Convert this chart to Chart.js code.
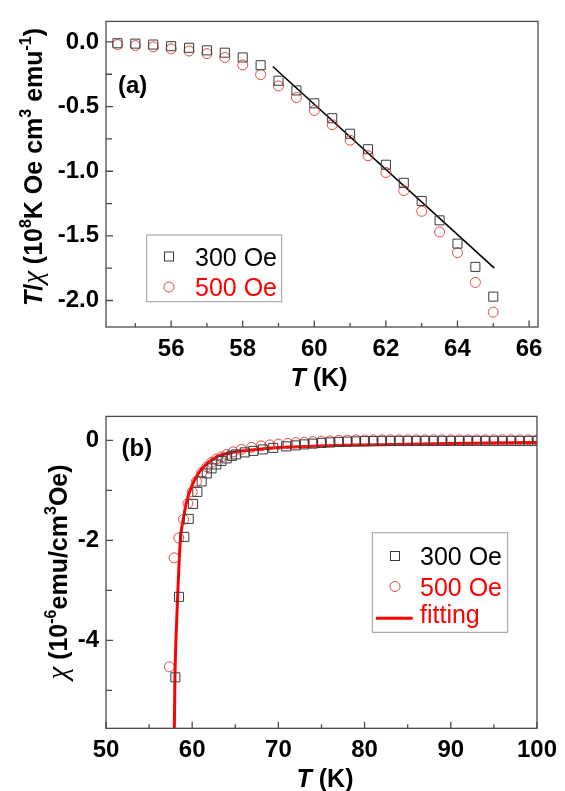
<!DOCTYPE html>
<html><head><meta charset="utf-8">
<script src="https://cdn.jsdelivr.net/npm/chart.js@4.4.0/dist/chart.umd.min.js"></script>
<style>
html,body{margin:0;padding:0;background:#fff;}
#wrap{position:relative;width:565px;height:791px;overflow:hidden;}
canvas{position:absolute;left:0;}
</style></head><body>
<div id="wrap">
<canvas id="c1" width="565" height="395" style="top:0px"></canvas>
<canvas id="c2" width="565" height="396" style="top:395px"></canvas>
</div>
<script>
// ---------- Panel (a) data ----------
const topT   = [54.5,55,55.5,56,56.5,57,57.5,58,58.5,59,59.5,60,60.5,61,61.5,62,62.5,63,63.5,64,64.5,65];
const top300 = [-0.01,-0.013,-0.02,-0.033,-0.045,-0.065,-0.083,-0.12,-0.18,-0.30,-0.375,-0.475,-0.59,-0.71,-0.83,-0.95,-1.09,-1.23,-1.38,-1.56,-1.74,-1.97];
const top500 = [-0.02,-0.028,-0.038,-0.053,-0.07,-0.09,-0.12,-0.178,-0.253,-0.34,-0.43,-0.53,-0.64,-0.76,-0.88,-1.01,-1.15,-1.31,-1.47,-1.63,-1.86,-2.09];
const topFitT = [58.84, 65.03];
const topFitY = [-0.19, -1.75];
const topXTicks = [56,58,60,62,64,66];
const topXMinor = [55,57,59,61,63,65];
const topYTicks = [0,-0.5,-1.0,-1.5,-2.0];
const topYMinor = [-0.25,-0.75,-1.25,-1.75];

// ---------- Panel (b) data ----------
const botT300 = [58.05,58.47,59.09,59.6,60.1,60.6,61.1,61.7,62.25,62.8,63.4,64.0,64.6,65.1,66.1,67.1,68.2,69.4,70.9,
  72,73,74,75,76,77,78,79,80,81,82,83,84,85,86,87,88,89,90,91,92,93,94,95,96,97,98,99,100];
const bot300  = [-4.74,-3.13,-1.93,-1.57,-1.27,-1.03,-0.82,-0.66,-0.56,-0.48,-0.41,-0.36,-0.31,-0.28,-0.24,-0.21,-0.18,-0.15,-0.12,
  -0.10,-0.08,-0.065,-0.05,-0.04,-0.03,-0.025,-0.02,-0.015,-0.012,-0.01,-0.01,-0.01,-0.01,-0.01,-0.01,-0.01,-0.01,-0.01,-0.01,-0.01,-0.01,-0.01,-0.01,-0.01,-0.01,-0.01,-0.01,-0.01];
const botT500 = [57.35,57.9,58.44,59.0,59.5,60.0,60.5,61.1,61.7,62.25,62.8,63.4,64.0,64.75,65.7,66.9,68.0,69.0,70.0,71.1,
  72,73,74,75,76,77,78,79,80,81,82,83,84,85,86,87,88,89,90,91,92,93,94,95,96,97,98,99,100];
const bot500  = [-4.53,-2.35,-1.95,-1.58,-1.26,-1.03,-0.82,-0.64,-0.53,-0.44,-0.375,-0.33,-0.28,-0.23,-0.18,-0.14,-0.11,-0.09,-0.075,-0.06,
  -0.045,-0.035,-0.025,-0.015,-0.01,0,0.005,0.01,0.01,0.012,0.012,0.012,0.012,0.012,0.012,0.012,0.012,0.012,0.012,0.012,0.012,0.012,0.012,0.012,0.012,0.012,0.012,0.012,0.012];
const fitT = [57.9,58.0,58.2,58.33,58.52,58.67,58.9,59.36,59.94,60.71,61.68,62.83,64.37,66.3,68.6,71.7,74.8,80,90,100];
const fitY = [-6.2,-4.74,-3.62,-3.05,-2.30,-1.91,-1.64,-1.22,-0.92,-0.66,-0.47,-0.33,-0.25,-0.20,-0.16,-0.13,-0.11,-0.09,-0.06,-0.04];
const botXTicks = [50,60,70,80,90,100];
const botXMinor = [55,65,75,85,95];
const botYTicks = [0,-2,-4];
const botYMinor = [-1,-3,-5];

const FAM = '"Liberation Sans", Arial, Helvetica, sans-serif';
const SERIF = '"Liberation Serif", "Times New Roman", serif';
const SQ_COLOR = '#3a3a3a';
const CI_COLOR = 'rgba(222,55,55,0.9)';
const RED = '#ff0000';

function pts(xs, ys){ return xs.map((x,i)=>({x:x, y:ys[i]})); }

function drawRich(ctx, segs, x, y, rot, size){
  const fontFor = s => s.g ? ('italic ' + Math.round(size*1.15) + 'px ' + SERIF)
    : (s.i?'italic ':'') + 'bold ' + (s.s?Math.round(size*0.62):size) + 'px ' + FAM;
  let total = 0;
  segs.forEach(s=>{ ctx.font = fontFor(s); s.w = ctx.measureText(s.t).width; total += s.w; });
  ctx.save();
  ctx.translate(x,y); ctx.rotate(rot);
  ctx.textBaseline = 'alphabetic'; ctx.textAlign = 'left'; ctx.fillStyle = '#000';
  let cx = -total/2;
  const base = size*0.36;
  segs.forEach(s=>{ ctx.font = fontFor(s); ctx.fillText(s.t, cx, s.s ? base - size*0.45 : base); cx += s.w; });
  ctx.restore();
}

const decor = {
  id:'decor',
  afterDraw(chart, args, o){
    const ctx = chart.ctx, a = chart.chartArea, xs = chart.scales.x, ys = chart.scales.y;
    ctx.save();
    ctx.strokeStyle = '#4a4a4a'; ctx.lineWidth = 1.3;
    ctx.strokeRect(a.left, a.top, a.right-a.left, a.bottom-a.top);
    ctx.beginPath();
    o.xMajor.forEach(v=>{ const p = xs.getPixelForValue(v); ctx.moveTo(p,a.bottom); ctx.lineTo(p,a.bottom-6.5); });
    o.xMinor.forEach(v=>{ const p = xs.getPixelForValue(v); ctx.moveTo(p,a.bottom); ctx.lineTo(p,a.bottom-4); });
    o.yMajor.forEach(v=>{ const p = ys.getPixelForValue(v); ctx.moveTo(a.left,p); ctx.lineTo(a.left+7,p); });
    o.yMinor.forEach(v=>{ const p = ys.getPixelForValue(v); ctx.moveTo(a.left,p); ctx.lineTo(a.left+6,p); });
    ctx.stroke();
    ctx.fillStyle = '#000'; ctx.font = 'bold 24px ' + FAM; ctx.textBaseline = 'alphabetic'; ctx.textAlign='left';
    ctx.fillText(o.panel.t, o.panel.x, o.panel.y + 24*0.36);
    drawRich(ctx, o.xTitle.segs, o.xTitle.x, o.xTitle.y, 0, 25);
    drawRich(ctx, o.yTitle.segs, o.yTitle.x, o.yTitle.y, -Math.PI/2, 25);
    const L = o.legend;
    ctx.strokeStyle = '#9a9a9a'; ctx.lineWidth = 1;
    ctx.strokeRect(L.box[0], L.box[1], L.box[2]-L.box[0], L.box[3]-L.box[1]);
    L.items.forEach(it=>{
      const cy = it.y;
      if (it.kind === 'sq'){ ctx.strokeStyle = SQ_COLOR; ctx.lineWidth=1; ctx.strokeRect(L.mx-4.5, cy-4.5, 9, 9); }
      else if (it.kind === 'ci'){ ctx.strokeStyle = CI_COLOR; ctx.lineWidth=1; ctx.beginPath(); ctx.arc(L.mx, cy, 5, 0, Math.PI*2); ctx.stroke(); }
      else { ctx.strokeStyle = RED; ctx.lineWidth=3; ctx.beginPath(); ctx.moveTo(L.lx0, it.ly); ctx.lineTo(L.lx1, it.ly); ctx.stroke(); }
      ctx.fillStyle = it.color; ctx.font = '25px ' + FAM; ctx.textBaseline='alphabetic';
      ctx.fillText(it.text, L.tx, cy + 25*0.36);
    });
    ctx.restore();
  }
};

function axisX(min, max, ticks){
  return { type:'linear', min:min, max:max,
    grid:{display:false, drawTicks:false}, border:{display:false},
    afterBuildTicks: s => { s.ticks = ticks.map(v=>({value:v})); },
    afterFit: s => { s.height = 68; },
    ticks:{ color:'#000', padding:8, font:{family:FAM, size:24, weight:'bold'}, maxRotation:0, autoSkip:false,
      callback: v => String(v) } };
}
function axisY(min, max, ticks, dec){
  return { type:'linear', min:min, max:max,
    grid:{display:false, drawTicks:false}, border:{display:false},
    afterBuildTicks: s => { s.ticks = ticks.map(v=>({value:v})); },
    afterFit: s => { s.width = 106; },
    ticks:{ color:'#000', padding:7, font:{family:FAM, size:24, weight:'bold'}, autoSkip:false,
      callback: v => dec ? Number(v).toFixed(1) : String(v) } };
}

const sqStyle = { showLine:false, pointStyle:'rect', pointRadius:6.4, pointHoverRadius:6.4, pointBorderColor:SQ_COLOR, pointBackgroundColor:'rgba(0,0,0,0)', pointBorderWidth:1 };
const ciStyle = { showLine:false, pointStyle:'circle', pointRadius:5, pointHoverRadius:5, pointBorderColor:CI_COLOR, pointBackgroundColor:'rgba(0,0,0,0)', pointBorderWidth:1 };

new Chart(document.getElementById('c1'), {
  type:'scatter',
  data:{ datasets:[
    Object.assign({label:'300 Oe', data:pts(topT, top300)}, sqStyle),
    Object.assign({label:'500 Oe', data:pts(topT, top500)}, ciStyle),
    {label:'line', data:pts(topFitT, topFitY), showLine:true, borderColor:'#000', borderWidth:1.6, pointRadius:0, fill:false}
  ]},
  options:{
    responsive:false, animation:false, devicePixelRatio:1,
    layout:{ padding:{left:0, right:27, top:11, bottom:0} },
    scales:{ x:axisX(54.18, 66.25, topXTicks), y:axisY(-2.205, 0.159, topYTicks, true) },
    plugins:{ legend:{display:false}, tooltip:{enabled:false},
      decor:{ xMajor:topXTicks, xMinor:topXMinor, yMajor:topYTicks, yMinor:topYMinor,
        panel:{t:'(a)', x:118, y:84.5},
        xTitle:{x:319, y:377, segs:[{t:'T',i:true},{t:' (K)'}]},
        yTitle:{x:33, y:167, segs:[{t:'T',i:true},{t:'/'},{t:'χ',g:true},{t:' (10'},{t:'8',s:true},{t:'K Oe cm'},{t:'3',s:true},{t:' emu'},{t:'-1',s:true},{t:')'}]},
        legend:{ box:[146.7,235,281.7,301.7], mx:169, tx:195,
          items:[{kind:'sq', y:256.5, text:'300 Oe', color:'#000'},{kind:'ci', y:287, text:'500 Oe', color:RED}] }
      } }
  },
  plugins:[decor]
});

new Chart(document.getElementById('c2'), {
  type:'scatter',
  data:{ datasets:[
    Object.assign({label:'300 Oe', data:pts(botT300, bot300)}, sqStyle),
    Object.assign({label:'500 Oe', data:pts(botT500, bot500)}, ciStyle),
    {label:'fitting', data:pts(fitT, fitY), showLine:true, borderColor:RED, borderWidth:3, pointRadius:0, fill:false, cubicInterpolationMode:'monotone', clip:0}
  ]},
  options:{
    responsive:false, animation:false, devicePixelRatio:1,
    layout:{ padding:{left:0, right:27, top:17.3, bottom:0} },
    scales:{ x:Object.assign(axisX(50, 100, botXTicks), {afterFit: s=>{ s.height = 62.7; }}), y:axisY(-5.76, 0.48, botYTicks, false) },
    plugins:{ legend:{display:false}, tooltip:{enabled:false},
      decor:{ xMajor:botXTicks, xMinor:botXMinor, yMajor:botYTicks, yMinor:botYMinor,
        panel:{t:'(b)', x:121.5, y:52},
        xTitle:{x:325, y:383, segs:[{t:'T',i:true},{t:' (K)'}]},
        yTitle:{x:58, y:177, segs:[{t:'χ',g:true},{t:' (10'},{t:'-6',s:true},{t:'emu/cm'},{t:'3',s:true},{t:'Oe)'}]},
        legend:{ box:[372.3,137.7,507.7,237.3], mx:395, tx:420, lx0:376, lx1:412.7,
          items:[{kind:'sq', y:161, text:'300 Oe', color:'#000'},{kind:'ci', y:191.5, text:'500 Oe', color:RED},{kind:'ln', y:219, ly:223.3, text:'fitting', color:RED}] }
      } }
  },
  plugins:[decor]
});
</script>
</body></html>
